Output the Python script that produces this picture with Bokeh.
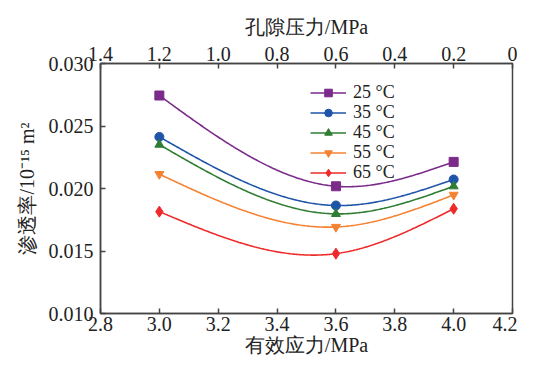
import numpy as np
from bokeh.plotting import figure
from bokeh.models import Range1d, LinearAxis, FixedTicker, Legend, LegendItem, NumeralTickFormatter
from bokeh.embed import file_html
from bokeh.resources import INLINE

stress = [3.0, 3.6, 4.0]
labels = ["25 °C", "35 °C", "45 °C", "55 °C", "65 °C"]
perm_25 = [0.02744, 0.02018, 0.02213]
perm_35 = [0.02413, 0.01864, 0.02072]
perm_45 = [0.02351, 0.01797, 0.02018]
perm_55 = [0.02115, 0.01692, 0.01949]
perm_65 = [0.01815, 0.01479, 0.01838]
series = [perm_25, perm_35, perm_45, perm_55, perm_65]
colors = ["#7B2A8A", "#1F55A8", "#2E7D32", "#F58232", "#EE2A2A"]
markers = ["square", "circle", "triangle", "inverted_triangle", "diamond"]

x_ticks = [2.8, 3.0, 3.2, 3.4, 3.6, 3.8, 4.0, 4.2]
y_ticks = [0.010, 0.015, 0.020, 0.025, 0.030]
top_labels = ["1.4", "1.2", "1.0", "0.8", "0.6", "0.4", "0.2", "0"]  # pore pressure at each x tick


def natural_spline(xs, ys, n=200):
    xs = np.asarray(xs, float)
    ys = np.asarray(ys, float)
    k = len(xs)
    h = np.diff(xs)
    A = np.zeros((k, k))
    b = np.zeros(k)
    A[0, 0] = 1
    A[-1, -1] = 1
    for i in range(1, k - 1):
        A[i, i - 1] = h[i - 1]
        A[i, i] = 2 * (h[i - 1] + h[i])
        A[i, i + 1] = h[i]
        b[i] = 6 * ((ys[i + 1] - ys[i]) / h[i] - (ys[i] - ys[i - 1]) / h[i - 1])
    M = np.linalg.solve(A, b)
    xx = np.linspace(xs[0], xs[-1], n)
    yy = np.empty_like(xx)
    for j, x in enumerate(xx):
        i = min(np.searchsorted(xs, x, side="right") - 1, k - 2)
        t1 = xs[i + 1] - x
        t0 = x - xs[i]
        yy[j] = (M[i] * t1 ** 3 / (6 * h[i]) + M[i + 1] * t0 ** 3 / (6 * h[i])
                 + (ys[i] / h[i] - M[i] * h[i] / 6) * t1
                 + (ys[i + 1] / h[i] - M[i + 1] * h[i] / 6) * t0)
    return xx, yy


SERIF = "Liberation Serif"
TXT = "#222222"
AX = "#444444"
FS = "20px"

p = figure(width=517, height=361, output_backend="svg", toolbar_location=None,
           x_range=Range1d(2.8, 4.2), y_range=Range1d(0.010, 0.030),
           min_border_left=100, min_border_right=5, min_border_top=63, min_border_bottom=48,
           x_axis_label="有效应力/MPa", y_axis_label="渗透率/10⁻¹⁵ m²")
p.grid.visible = False
p.outline_line_color = AX
p.outline_line_width = 1.5
p.background_fill_color = "white"
p.border_fill_color = "white"

top_axis = LinearAxis(axis_label="孔隙压力/MPa")
top_axis.ticker = FixedTicker(ticks=x_ticks)
top_axis.major_label_overrides = {t: s for t, s in zip(x_ticks, top_labels)}
p.add_layout(top_axis, "above")

p.below[0].ticker = FixedTicker(ticks=x_ticks)
p.below[0].formatter = NumeralTickFormatter(format="0.0")
p.yaxis.ticker = FixedTicker(ticks=y_ticks)
p.yaxis.formatter = NumeralTickFormatter(format="0.000")

for ax in [p.below[0], top_axis, p.left[0]]:
    ax.major_tick_in = 5
    ax.major_tick_out = 0
    ax.minor_tick_line_color = None
    ax.axis_line_color = AX
    ax.axis_line_width = 1.5
    ax.major_tick_line_color = AX
    ax.major_tick_line_width = 1.5
    ax.major_label_text_font = SERIF
    ax.major_label_text_font_size = FS
    ax.major_label_text_color = TXT
    ax.axis_label_text_font = SERIF
    ax.axis_label_text_font_size = FS
    ax.axis_label_text_font_style = "normal"
    ax.axis_label_text_color = TXT

p.below[0].major_label_standoff = 3
p.below[0].axis_label_standoff = 0
top_axis.major_label_standoff = 3
top_axis.axis_label_standoff = 6
p.left[0].major_label_standoff = 7
p.left[0].axis_label_standoff = 8

# one single-entry legend per series so the rows sit as tightly as in the reference
legend_rows_y = [210, 190, 170, 150, 130]
for lab, ys, c, m, ly in zip(labels, series, colors, markers, legend_rows_y):
    xx, yy = natural_spline(stress, ys)
    r1 = p.line(xx, yy, line_color=c, line_width=1.6)
    r2 = p.scatter(stress, ys, marker=m, size=9 if m != "diamond" else 11,
                   fill_color=c, line_color=c)
    lg = Legend(items=[LegendItem(label=lab, renderers=[r1, r2])], location=(210, ly),
                glyph_width=36, glyph_height=19, label_height=19, spacing=0,
                padding=0, margin=0, label_standoff=7,
                label_text_font=SERIF, label_text_font_size="18px",
                label_text_color=TXT,
                border_line_color=None, background_fill_alpha=0)
    p.add_layout(lg, "center")

open("out.html", "w").write(file_html(p, INLINE))
